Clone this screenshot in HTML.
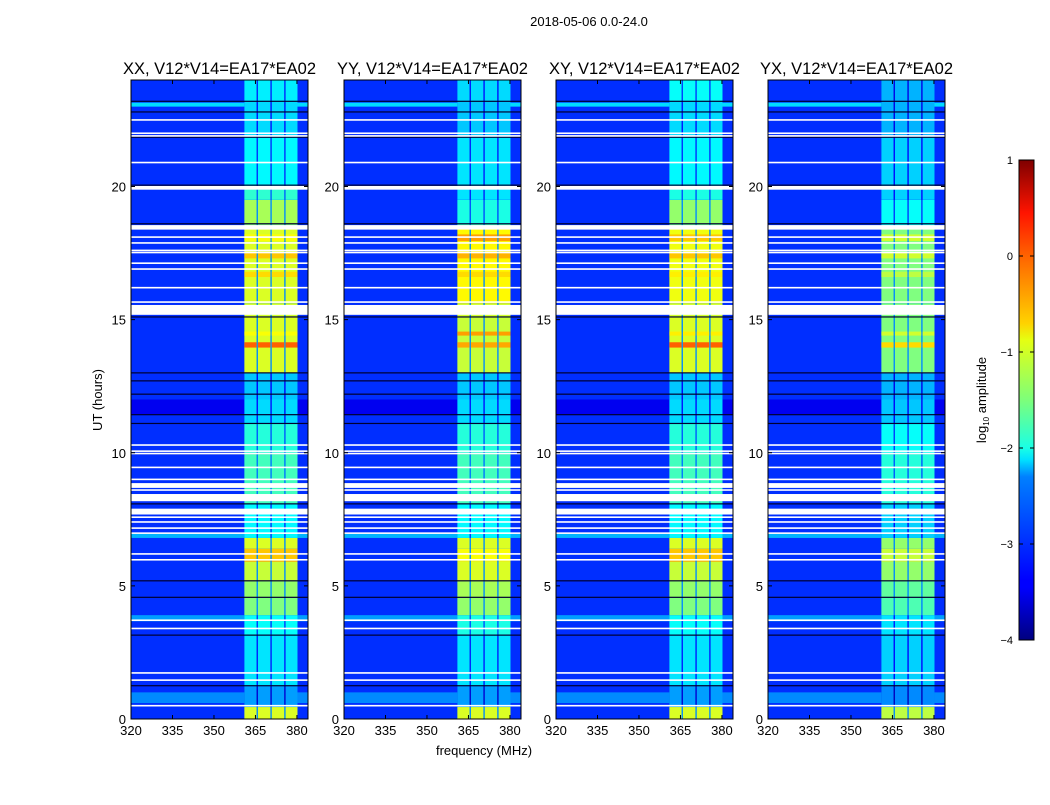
<!DOCTYPE html>
<html><head><meta charset="utf-8">
<style>
html,body{margin:0;padding:0;background:#fff;}
body{width:1050px;height:800px;overflow:hidden;font-family:"Liberation Sans",sans-serif;}
</style></head>
<body>
<svg id="chart" width="1050" height="800" xmlns="http://www.w3.org/2000/svg" font-family="Liberation Sans, sans-serif">
<defs>
<linearGradient id="jet" x1="0" y1="1" x2="0" y2="0">
<stop offset="0" stop-color="#00007f"/><stop offset="0.11" stop-color="#0000ff"/>
<stop offset="0.125" stop-color="#0000ff"/><stop offset="0.34" stop-color="#0080ff"/>
<stop offset="0.375" stop-color="#00e0ff"/><stop offset="0.4" stop-color="#1affe5"/>
<stop offset="0.5" stop-color="#7dff7a"/><stop offset="0.625" stop-color="#e5ff12"/>
<stop offset="0.66" stop-color="#ffd200"/><stop offset="0.8" stop-color="#ff6300"/>
<stop offset="0.89" stop-color="#ff1400"/><stop offset="1" stop-color="#7f0000"/>
</linearGradient>
</defs>
<text x="589" y="26" font-size="13" text-anchor="middle">2018-05-06 0.0-24.0</text>
<g id="panels"></g>
<text x="484" y="755" font-size="13" text-anchor="middle">frequency (MHz)</text>
<text transform="translate(102,400) rotate(-90)" font-size="13" text-anchor="middle">UT (hours)</text>
<g>
<rect x="1019" y="160" width="15" height="480" fill="url(#jet)" stroke="#000" stroke-width="1"/>
<text transform="translate(986,400) rotate(-90)" font-size="13" text-anchor="middle">log<tspan font-size="8" dy="3">10</tspan><tspan dy="-3"> amplitude</tspan></text>
<g id="cbticks"></g>
</g>
</svg>
<script>
const panelTitles = ["XX, V12*V14=EA17*EA02","YY, V12*V14=EA17*EA02","XY, V12*V14=EA17*EA02","YX, V12*V14=EA17*EA02"];
const xTicks = [320,335,350,365,380];
const yTicks = [0,5,10,15,20];
const cbTicks = [1,0,-1,-2,-3,-4];
const baseLevel = -3.15;
const subBands = [[361,365.4],[365.9,370.4],[370.9,375.4],[375.9,380.2]];
// band segments: [h0,h1, XX, YY, XY, YX] log10 amplitude
const bandSegments = [
[0,0.45,-1.05,-1.05,-1.05,-1.2],[0.45,1.25,-2.6,-2.6,-2.6,-2.7],[1.25,3.15,-2.25,-2.25,-2.25,-2.35],
[3.15,3.9,-2.1,-2.0,-2.1,-2.25],[3.9,4.57,-1.5,-1.4,-1.5,-1.75],[4.57,5.19,-1.4,-1.3,-1.4,-1.65],
[5.19,5.9,-1.15,-1.05,-1.15,-1.4],[5.9,6.4,-0.6,-0.9,-0.6,-1.15],[6.4,6.8,-1.05,-1.05,-1.05,-1.4],
[6.8,8.08,-2.15,-2.15,-2.15,-2.35],[8.08,9.97,-1.8,-1.8,-1.8,-1.95],[9.97,11.1,-1.95,-1.95,-1.95,-2.1],
[11.1,12.0,-2.3,-2.3,-2.3,-2.4],[12.0,13.0,-2.4,-2.4,-2.4,-2.5],[13.0,15.1,-1.05,-1.15,-1.05,-1.5],
[15.1,15.6,-1.1,-1.1,-1.1,-1.5],[15.6,18.4,-1.05,-0.85,-0.95,-1.5],[18.4,18.6,-1.5,-1.8,-1.6,-2.1],
[18.6,19.5,-1.3,-2.0,-1.4,-2.1],[19.5,20.0,-1.9,-2.25,-2.0,-2.35],[20.0,21.85,-2.15,-2.25,-2.15,-2.35],
[21.85,23.2,-2.3,-2.4,-2.3,-2.5],[23.2,24,-2.2,-2.3,-2.1,-2.5]];
// hot stripes inside band: [h0,h1, XX,YY,XY,YX]
const hotStripes = [[13.95,14.15,-0.1,-0.45,-0.1,-0.7],[14.4,14.55,-0.9,-0.4,-0.8,-1.1],[17.3,17.5,-0.6,-0.5,-0.6,-1.1],
[17.95,18.2,-0.9,-0.4,-0.6,-1.1],[16.6,16.8,-0.7,-0.7,-0.8,-1.2]];
// full-width stripes: [h0,h1,level]
const fullStripes = [[23.0,23.15,-2.3],[6.8,6.95,-2.5],[3.67,3.9,-2.6],[0.6,1.0,-2.7],[11.45,12.0,-3.45]];
// flagged (white) rows: [h0,h1]
const flagRows = [[22.47,22.53],[21.97,22.03],[21.87,21.93],[20.87,20.93],[19.88,20.02],[18.38,18.55],
[18.07,18.13],[17.85,17.91],[17.57,17.63],[17.5,17.55],[17.09,17.15],[16.87,16.93],[16.17,16.23],[15.63,15.69],
[15.18,15.55],[10.26,10.32],[10.03,10.09],[9.96,10.0],[9.42,9.48],[8.97,9.03],[8.68,8.86],[8.57,8.63],[8.18,8.45],
[7.68,7.9],[7.55,7.61],[7.37,7.43],[7.14,7.2],[6.95,7.01],[6.17,6.23],[5.95,6.01],[3.68,3.74],[3.37,3.43],
[1.7,1.76],[1.43,1.49],[0.47,0.53]];
// empty (black) rows
const blackRows = [23.2,22.8,21.85,20.05,18.6,15.1,13.0,12.7,12.2,11.43,11.1,9.97,8.08,5.19,4.57,3.15,1.25];

const NS="http://www.w3.org/2000/svg";
const panelX=[131,344,556,768], PW=177, PT=80, PB=719;
function jet(v){let t=(v+4)/5;t=Math.max(0,Math.min(1,t));
 const c=x=>Math.round(255*Math.max(0,Math.min(1,x)));
 return `rgb(${c(1.5-Math.abs(4*t-3))},${c(1.5-Math.abs(4*t-2))},${c(1.5-Math.abs(4*t-1))})`;}
function mk(tag,attrs,parent){const e=document.createElementNS(NS,tag);for(const k in attrs)e.setAttribute(k,attrs[k]);parent.appendChild(e);return e;}
const panels=document.getElementById('panels');
panelX.forEach((x0,p)=>{
 const xs=f=>x0+(f-320)/64*PW;
 const ys=h=>PB-h/24*(PB-PT);
 const g=mk('g',{},panels);
 
 
 const bg=mk('rect',{x:x0,y:PT,width:PW,height:PB-PT,fill:jet(baseLevel)},g);
 
 
 fullStripes.forEach(s=>{const r=mk('rect',{x:x0,y:ys(s[1]),width:PW,height:ys(s[0])-ys(s[1]),fill:jet(s[2])},g);
  
  });
 bandSegments.forEach(s=>{
  const gap=mk('rect',{x:xs(subBands[0][0]),y:ys(s[1]),width:xs(subBands[3][1])-xs(subBands[0][0]),height:ys(s[0])-ys(s[1]),fill:jet(Math.min(s[2+p]-1.0,-2.7))},g);
  
  
  subBands.forEach(b=>{const r=mk('rect',{x:xs(b[0]),y:ys(s[1]),width:xs(b[1])-xs(b[0]),height:ys(s[0])-ys(s[1]),fill:jet(s[2+p])},g);
   
   });
 });
 hotStripes.forEach(s=>{subBands.forEach(b=>{const r=mk('rect',{x:xs(b[0]),y:ys(s[1]),width:xs(b[1])-xs(b[0]),height:ys(s[0])-ys(s[1]),fill:jet(s[2+p])},g);
   
   });});
 blackRows.forEach(h=>{const r=mk('rect',{x:x0,y:ys(h)-0.6,width:PW,height:1.2,fill:'#000030'},g);
  
  });
 flagRows.forEach(s=>{const r=mk('rect',{x:x0,y:ys(s[1]),width:PW,height:Math.max(1.6,ys(s[0])-ys(s[1])),fill:'#fff'},g);
  
  });
 const fr=mk('rect',{x:x0,y:PT,width:PW,height:PB-PT,fill:'none',stroke:'#000','stroke-width':1},g);
 
 
 const t=mk('text',{x:x0+PW/2,y:74,'font-size':16.5,'text-anchor':'middle'},g);
 t.textContent=panelTitles[p];
 
 
 xTicks.forEach(v=>{const x=xs(v);
  mk('line',{x1:x,x2:x,y1:PB,y2:PB-4,stroke:'#000'},g);mk('line',{x1:x,x2:x,y1:PT,y2:PT+4,stroke:'#000'},g);
  const l=mk('text',{x:x,y:PB+16,'font-size':13,'text-anchor':'middle'},g);l.textContent=v;
  
  });
 yTicks.forEach(v=>{const y=ys(v);
  mk('line',{x1:x0,x2:x0+4,y1:y,y2:y,stroke:'#000'},g);mk('line',{x1:x0+PW,x2:x0+PW-4,y1:y,y2:y,stroke:'#000'},g);
  const l=mk('text',{x:x0-5,y:y+5,'font-size':13,'text-anchor':'end'},g);l.textContent=v;
  
  });
});
const cb=document.getElementById('cbticks');
cbTicks.forEach(v=>{const y=640-(v+4)/5*480;
 mk('line',{x1:1019,x2:1023,y1:y,y2:y,stroke:'#000'},cb);mk('line',{x1:1034,x2:1030,y1:y,y2:y,stroke:'#000'},cb);
 const l=mk('text',{x:1013,y:y+4,'font-size':11,'text-anchor':'end'},cb);l.textContent=v<0?'\u2212'+(-v):v;
 
 });
</script>
</body></html>
